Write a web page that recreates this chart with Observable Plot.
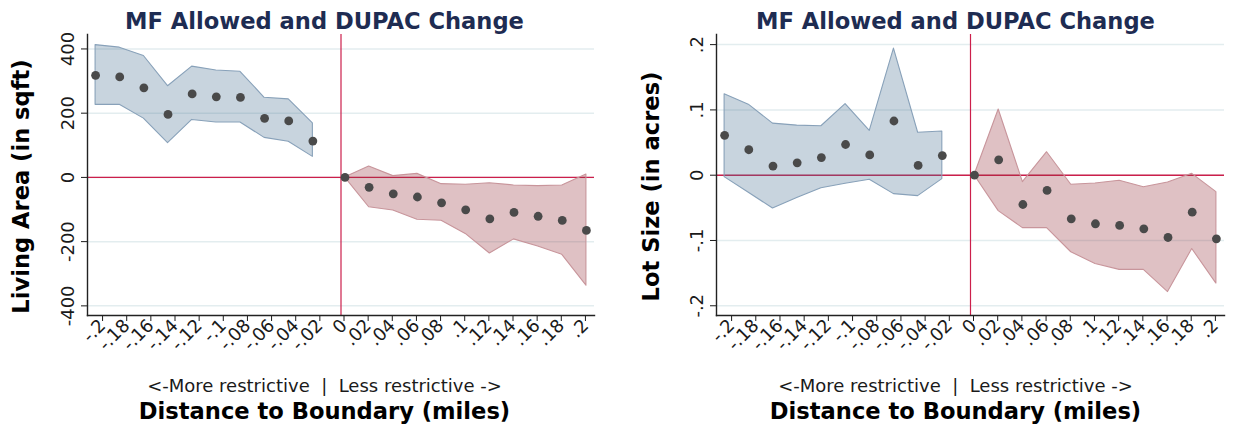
<!DOCTYPE html>
<html>
<head>
<meta charset="utf-8">
<script src="https://cdn.jsdelivr.net/npm/d3@7"></script>
<script src="https://cdn.jsdelivr.net/npm/@observablehq/plot@0.6"></script>
<style>
  html, body { margin: 0; padding: 0; background: #ffffff; }
  #chart { display: flex; width: 1239px; height: 426px; }
  #chart svg { display: block; }
</style>
</head>
<body>
<div id="chart"></div>
<script>
// Distance bins (miles): bin midpoints on each side of the boundary
const binsMoreRestrictive = [-0.2033, -0.1833, -0.1633, -0.1433, -0.1233, -0.1033, -0.0833, -0.0633, -0.0433, -0.0233];
const binsLessRestrictive = [0.0033, 0.0233, 0.0433, 0.0633, 0.0833, 0.1033, 0.1233, 0.1433, 0.1633, 0.1833, 0.2033];

// Living area (sqft): point estimates and 95% CI bounds
const livingMoreEst = [318, 313, 279, 196, 260, 251, 249, 184, 176, 113];
const livingMoreHi  = [412, 404, 378, 284, 345, 333, 329, 248, 243, 168];
const livingMoreLo  = [226, 226, 183, 107, 179, 171, 171, 123, 111, 64];
const livingLessEst = [0, -31, -51, -61, -79, -101, -129, -109, -121, -134, -165];
const livingLessHi  = [0, 34, 4, 11, -21, -23, -18, -25, -27, -25, 9];
const livingLessLo  = [0, -93, -103, -132, -135, -176, -237, -193, -215, -241, -337];

// Lot size (acres): point estimates and 95% CI bounds
const lotMoreEst = [0.061, 0.039, 0.014, 0.019, 0.027, 0.047, 0.031, 0.083, 0.015, 0.030];
const lotMoreHi  = [0.124, 0.108, 0.079, 0.076, 0.075, 0.109, 0.068, 0.194, 0.065, 0.067];
const lotMoreLo  = [-0.003, -0.027, -0.051, -0.035, -0.020, -0.013, -0.007, -0.029, -0.032, -0.006];
const lotLessEst = [0, 0.0236, -0.0449, -0.0234, -0.0668, -0.0744, -0.077, -0.0821, -0.0954, -0.0567, -0.0974];
const lotLessHi  = [0, 0.1006, -0.0107, 0.0352, -0.0147, -0.0127, -0.0086, -0.0184, -0.0112, 0.0021, -0.026];
const lotLessLo  = [0, -0.055, -0.081, -0.081, -0.118, -0.136, -0.145, -0.145, -0.179, -0.113, -0.166];

// Axis ticks and their labels
const xTicks = [-0.2, -0.18, -0.16, -0.14, -0.12, -0.1, -0.08, -0.06, -0.04, -0.02, 0,
                0.02, 0.04, 0.06, 0.08, 0.1, 0.12, 0.14, 0.16, 0.18, 0.2];
const xTickLabels = ["-.2", "-.18", "-.16", "-.14", "-.12", "-.1", "-.08", "-.06", "-.04", "-.02", "0",
                     ".02", ".04", ".06", ".08", ".1", ".12", ".14", ".16", ".18", ".2"];
const livingTicks = [-400, -200, 0, 200, 400];
const livingTickLabels = ["-400", "-200", "0", "200", "400"];
const lotTicks = [-0.2, -0.1, 0, 0.1, 0.2];
const lotTickLabels = ["-.2", "-.1", "0", ".1", ".2"];

// Text
const panelTitle = "MF Allowed and DUPAC Change";
const sideNote = "<-More restrictive  |  Less restrictive ->";
const xTitle = "Distance to Boundary (miles)";
const livingTitle = "Living Area (in sqft)";
const lotTitle = "Lot Size (in acres)";

const navy = "#1e2c52";
const red = "#cc1f4b";
const ink = "#1a1a1a";

function rows(xs, est, lo, hi) {
  return xs.map((x, i) => ({x, est: est[i], lo: lo[i], hi: hi[i]}));
}

function panel(o) {
  const more = rows(binsMoreRestrictive, o.moreEst, o.moreLo, o.moreHi);
  const less = rows(binsLessRestrictive, o.lessEst, o.lessLo, o.lessHi);
  const xLab = new Map(xTicks.map((t, i) => [t, xTickLabels[i]]));
  const yLab = new Map(o.yTicks.map((t, i) => [t, o.yTickLabels[i]]));
  return Plot.plot({
    width: o.width,
    height: 426,
    marginLeft: o.marginLeft,
    marginRight: o.marginRight,
    marginTop: 34,
    marginBottom: 111,
    style: {fontFamily: "DejaVu Sans", background: "#ffffff", color: ink, overflow: "visible"},
    x: {domain: [-0.21, 0.21]},
    y: {domain: o.yDomain},
    marks: [
      Plot.gridY(o.yTicks, {stroke: "#e3edef", strokeOpacity: 1, strokeWidth: 1.5}),
      Plot.ruleY([0], {stroke: red, strokeWidth: 1.4}),
      Plot.ruleX([0], {stroke: red, strokeWidth: 1.2}),
      Plot.areaY(more, {x: "x", y1: "lo", y2: "hi", fill: "#4a6f92", fillOpacity: 0.3, stroke: "#88a1b9", strokeWidth: 1.1}),
      Plot.areaY(less, {x: "x", y1: "lo", y2: "hi", fill: "#94313b", fillOpacity: 0.3, stroke: "#c8959b", strokeWidth: 1.1}),
      Plot.dot(more.concat(less), {x: "x", y: "est", r: 4.4, fill: "#4a4a4a"}),
      Plot.axisY(o.yTicks, {tickSize: 6, tickRotate: -90, tickPadding: 8, fontSize: 18, color: ink,
                            tickFormat: d => yLab.get(d), label: null}),
      Plot.axisX(xTicks, {tickSize: 6, tickRotate: -45, tickPadding: 1, dx: 3, fontSize: 18, color: ink,
                          tickFormat: d => xLab.get(d), label: null}),
      Plot.frame({anchor: "left", stroke: "#222222", strokeWidth: 1.4}),
      Plot.frame({anchor: "bottom", stroke: "#222222", strokeWidth: 1.4}),
      Plot.text([panelTitle], {frameAnchor: "top", dx: o.textDx, dy: -6, lineAnchor: "bottom",
                               fontSize: 22.6, fontWeight: "bold", fill: navy}),
      Plot.text([sideNote], {frameAnchor: "bottom", dx: o.textDx, dy: 76, lineAnchor: "bottom",
                             fontSize: 18, fill: ink}),
      Plot.text([xTitle], {frameAnchor: "bottom", dx: o.textDx, dy: 103, lineAnchor: "bottom",
                           fontSize: 22.6, fontWeight: "bold", fill: "#000000"}),
      Plot.text([o.yTitle], {frameAnchor: "left", rotate: -90, dx: o.yTitleDx, dy: 11.5, lineAnchor: "bottom",
                             textAnchor: "middle", fontSize: 22.6, fontWeight: "bold", fill: "#000000"})
    ]
  });
}

const chart = document.getElementById("chart");
chart.appendChild(panel({
  width: 620, marginLeft: 87, marginRight: 26,
  yDomain: [-430, 445], yTicks: livingTicks, yTickLabels: livingTickLabels,
  moreEst: livingMoreEst, moreLo: livingMoreLo, moreHi: livingMoreHi,
  lessEst: livingLessEst, lessLo: livingLessLo, lessHi: livingLessHi,
  yTitle: livingTitle, yTitleDx: -59, textDx: -16.5
}));
chart.appendChild(panel({
  width: 619, marginLeft: 96, marginRight: 15,
  yDomain: [-0.2149, 0.2155], yTicks: lotTicks, yTickLabels: lotTickLabels,
  moreEst: lotMoreEst, moreLo: lotMoreLo, moreHi: lotMoreHi,
  lessEst: lotLessEst, lessLo: lotLessLo, lessHi: lotLessHi,
  yTitle: lotTitle, yTitleDx: -58, textDx: -15
}));
</script>
</body>
</html>
